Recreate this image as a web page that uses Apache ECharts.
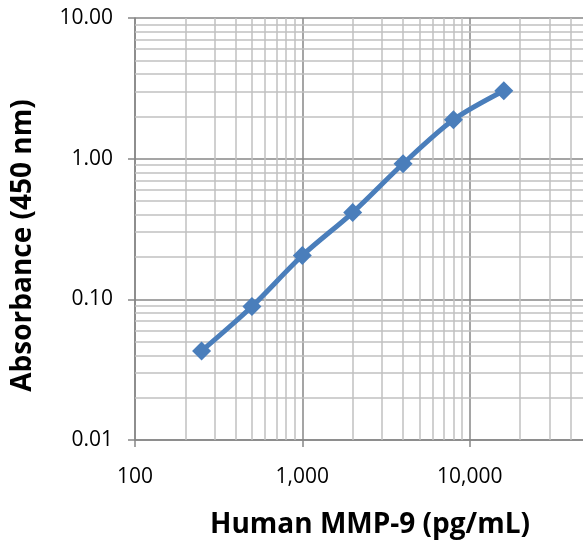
<!DOCTYPE html>
<html>
<head>
<meta charset="utf-8">
<script src="https://cdn.jsdelivr.net/npm/echarts@6/dist/echarts.min.js"></script>
<style>html,body{margin:0;padding:0;background:#fff;overflow:hidden}#c{width:640px;height:544px}</style>
</head>
<body>
<div id="c"></div>
<script>
const concentrations = [250, 500, 1000, 2000, 4000, 8000, 16000];
const absorbance = [0.043, 0.089, 0.205, 0.414, 0.92, 1.89, 3.04];
const xMinorGrid = [200,300,400,500,600,700,800,900,2000,3000,4000,5000,6000,7000,8000,9000,20000,30000,40000,50000,60000,70000,80000,90000];
const yMinorGrid = [0.02,0.03,0.04,0.05,0.06,0.07,0.08,0.09,0.2,0.3,0.4,0.5,0.6,0.7,0.8,0.9,2,3,4,5,6,7,8,9];
const xTickLabels = {100: '100', 1000: '1,000', 10000: '10,000'};
const xTitle = 'Human MMP-9 (pg/mL)';
const yTitle = 'Absorbance (450 nm)';

const chart = echarts.init(document.getElementById('c'), null, {renderer: 'canvas'});
const font = 'Open Sans';
const minorColor = '#c0c0c0';
const majorColor = '#878787';

const option = {
  animation: false,
  grid: {left: 135, top: 18, bottom: 103, right: 3, containLabel: false},
  xAxis: {
    type: 'log', logBase: 10, min: 100, max: 100000,
    axisLine: {show: true, lineStyle: {color: majorColor, width: 1.5}},
    axisTick: {show: true, length: 7, lineStyle: {color: majorColor, width: 1.5}},
    axisLabel: {margin: 27, color: '#000', fontFamily: font, fontSize: 21,
      formatter: v => xTickLabels[Math.round(v)] || ''},
    splitLine: {show: true, lineStyle: {color: majorColor, width: 1.5}},
    name: xTitle, nameLocation: 'middle', nameGap: 71,
    nameTextStyle: {color: '#000', fontFamily: font, fontSize: 28, fontWeight: 'bold', padding: [0, 32, 0, 0]}
  },
  yAxis: {
    type: 'log', logBase: 10, min: 0.01, max: 10,
    axisLine: {show: true, lineStyle: {color: majorColor, width: 1.5}},
    axisTick: {show: true, length: 7, lineStyle: {color: majorColor, width: 1.5}},
    axisLabel: {margin: 22, color: '#000', fontFamily: font, fontSize: 21,
      formatter: v => Number(v).toFixed(2)},
    splitLine: {show: true, lineStyle: {color: majorColor, width: 1.5}},
    name: yTitle, nameLocation: 'middle', nameGap: 98,
    nameTextStyle: {color: '#000', fontFamily: font, fontSize: 28, fontWeight: 'bold', padding: [0, 33, 0, 0]}
  },
  series: [
    {
      type: 'line', data: [], silent: true, z: 1,
      markLine: {
        silent: true, symbol: 'none', animation: false,
        label: {show: false},
        lineStyle: {color: minorColor, width: 1.5, type: 'solid'},
        data: xMinorGrid.map(v => ({xAxis: v})).concat(yMinorGrid.map(v => ({yAxis: v})))
      }
    },
    {
      type: 'line', z: 5,
      data: concentrations.map((c, i) => [c, absorbance[i]]),
      smooth: 0.3,
      symbol: 'diamond', symbolSize: 19,
      lineStyle: {color: '#4a7ebb', width: 5},
      itemStyle: {color: '#4a7ebb'}
    }
  ]
};
chart.setOption(option);
</script>
</body>
</html>
